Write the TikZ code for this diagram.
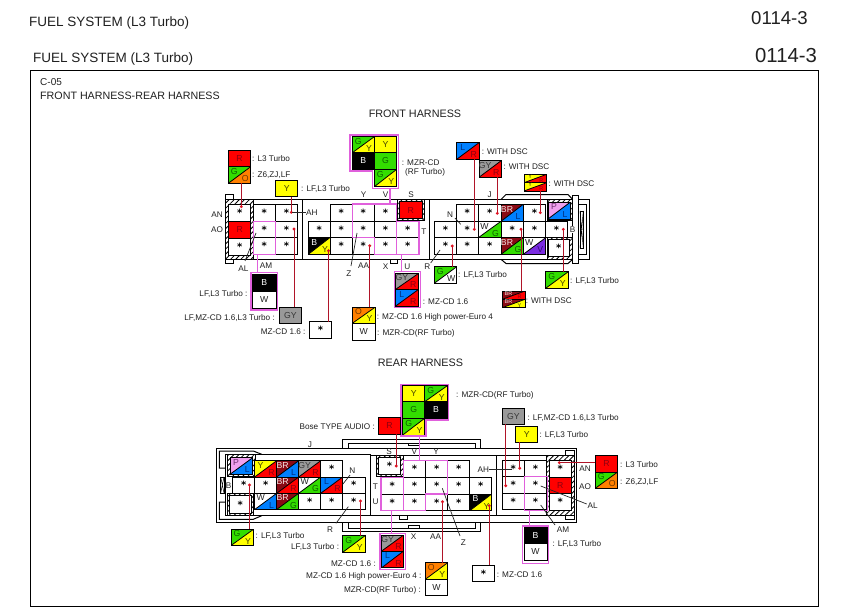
\documentclass[tikz,border=0pt]{standalone}
\usepackage{fontspec}
\setmainfont{Liberation Sans}
\newfontfamily\starfont{DejaVu Sans}[BoldFont={DejaVu Sans Bold}]
\usetikzlibrary{patterns.meta}
\definecolor{cR}{HTML}{FF0000}\definecolor{tR}{HTML}{8C0010}
\definecolor{cG}{HTML}{33DD00}\definecolor{tG}{HTML}{0C6000}
\definecolor{cY}{HTML}{FFFF00}\definecolor{tY}{HTML}{454500}
\definecolor{cO}{HTML}{FF8000}\definecolor{tO}{HTML}{703800}
\definecolor{cL}{HTML}{0080FF}\definecolor{tL}{HTML}{003080}
\definecolor{cBR}{HTML}{8A0A14}\definecolor{tBR}{HTML}{F8E8E8}
\definecolor{cGY}{HTML}{999999}\definecolor{tGY}{HTML}{383838}
\definecolor{cW}{HTML}{FFFFFF}\definecolor{tW}{HTML}{222222}
\definecolor{cP}{HTML}{F0A0EE}\definecolor{tP}{HTML}{703070}
\definecolor{cV}{HTML}{7A2BE0}\definecolor{tV}{HTML}{300C70}
\definecolor{cB}{HTML}{000000}\definecolor{tB}{HTML}{FFFFFF}
\definecolor{wirec}{HTML}{B01428}
\definecolor{dotc}{HTML}{E01020}
\definecolor{pinkc}{HTML}{E060DC}
\definecolor{txt}{HTML}{202020}
\newcounter{nid}
\newcommand\cfont{\fontsize{8.7}{9}\selectfont}
\newcommand\Bx[7]{%
  \pgfmathsetmacro\ww{#5-#3}\pgfmathsetmacro\hh{#6-#4}%
  \pgfmathsetmacro\cx{(#3+#5)/2}\pgfmathsetmacro\cy{(#4+#6)/2}%
  \node[#1,minimum width=\ww pt,minimum height=\hh pt] (#2) at (\cx,\cy) {#7};}
% star cell
\newcommand\St[4]{\stepcounter{nid}\Bx{cellb,fill=white,font=\starf}{n\arabic{nid}}{#1}{#2}{#3}{#4}{\raisebox{-.22em}{*}}}
% star cell with a name
\newcommand\Sn[5]{\Bx{cellb,fill=white,font=\starf}{#1}{#2}{#3}{#4}{#5}{\raisebox{-.22em}{*}}}
\newcommand\starf{\starfont\bfseries\fontsize{10}{10}\selectfont}
% plain coloured cell: name x1 y1 x2 y2 key
\newcommand\Pc[6]{\Bx{cellb,fill=c#6,text=t#6,font=\cfont}{#1}{#2}{#3}{#4}{#5}{#6}}
% two-tone cell: name x1 y1 x2 y2 key1 key2
\newcommand\Dg[7]{%
  \Bx{cellb,path picture={%
    \fill[c#6] (path picture bounding box.north west)--(path picture bounding box.north east)--(path picture bounding box.south west)--cycle;
    \fill[c#7] (path picture bounding box.north east)--(path picture bounding box.south east)--(path picture bounding box.south west)--cycle;
    \draw[black,line width=.8pt] (path picture bounding box.south west)--(path picture bounding box.north east);}}{#1}{#2}{#3}{#4}{#5}{}%
  \pgfmathsetmacro\lxa{#2+.27*(#4-#2)}\pgfmathsetmacro\lya{#3+.29*(#5-#3)}%
  \pgfmathsetmacro\lxb{#4-.24*(#4-#2)}\pgfmathsetmacro\lyb{#5-.27*(#5-#3)}%
  \stepcounter{nid}\node[inner sep=0,font=\cfont,text=t#6] (n\arabic{nid}) at (\lxa,\lya) {#6};%
  \stepcounter{nid}\node[inner sep=0,font=\cfont,text=t#7] (n\arabic{nid}) at (\lxb,\lyb) {#7};}
% text labels
\tikzset{
  cellb/.style={draw=black,line width=1pt,inner sep=0,outer sep=0},
  lb/.style={inner sep=0,text=txt,font=\fontsize{8.2}{9}\selectfont,text height=6pt,text depth=0pt},
  wirel/.style={draw=wirec,line width=1pt},
  pinkl/.style={draw=pinkc,line width=1.2pt},
  pinkbox/.style={draw=pinkc,line width=1.2pt,inner sep=0,outer sep=0},
  thinl/.style={draw=black,line width=1pt},
  leader/.style={draw=black!85,line width=.7pt},
  hatchb/.style={draw=black,line width=.8pt,pattern={Lines[angle=45,distance=3.6pt,line width=.8pt]}},
}
\newcommand\Ll[3]{\stepcounter{nid}\node[lb,anchor=west] (n\arabic{nid}) at (#1,#2) {#3};}
\newcommand\Lr[3]{\stepcounter{nid}\node[lb,anchor=east] (n\arabic{nid}) at (#1,#2) {#3};}
\newcommand\Lc[3]{\stepcounter{nid}\node[lb,anchor=center] (n\arabic{nid}) at (#1,#2) {#3};}
% wire: from swatch anchor straight to a dot at x,y
\newcommand\Wr[4]{\stepcounter{nid}\coordinate (n\arabic{nid}) at (#3,#4);
  \draw[wirel] (#1.#2 -| n\arabic{nid}) -- (n\arabic{nid});
  \fill[dotc] (n\arabic{nid}) circle (1.6pt);}
\newcommand\Ld[4]{\stepcounter{nid}\coordinate (n\arabic{nid}) at (#1,#2);
  \stepcounter{nid}\coordinate (n\arabic{nid}) at (#3,#4);
  \pgfmathtruncatemacro\prv{\arabic{nid}-1}\draw[leader] (n\prv) -- (n\arabic{nid});}
\begin{document}
\begin{tikzpicture}[x=1pt,y=-1pt]
\useasboundingbox (0,0) rectangle (849,607);
\fill[white] (0,0) rectangle (849,607);
% page
\node[inner sep=0,anchor=west,text=txt,font=\fontsize{13.5}{14}\selectfont] (title1) at (29,23) {FUEL SYSTEM (L3 Turbo)};
\node[inner sep=0,anchor=west,text=txt,font=\fontsize{13.5}{14}\selectfont] (title2) at (33,59) {FUEL SYSTEM (L3 Turbo)};
\node[inner sep=0,anchor=west,text=txt,font=\fontsize{18.6}{19}\selectfont] (num1) at (751,18) {0114-3};
\node[inner sep=0,anchor=west,text=txt,font=\fontsize{20.3}{21}\selectfont] (num2) at (755,56) {0114-3};
\node[draw=black,line width=1pt,inner sep=0,minimum width=788.5pt,minimum height=535pt,anchor=north west] (pagebox) at (29.5,70.5) {};
\node[inner sep=0,anchor=west,text=txt,font=\fontsize{10}{11}\selectfont] (cnum) at (40,82.5) {C-05};
\node[inner sep=0,anchor=west,text=txt,font=\fontsize{10.7}{12}\selectfont] (sub) at (40,96) {FRONT HARNESS-REAR HARNESS};
\node[inner sep=0,text=txt,font=\fontsize{10.8}{12}\selectfont] (hfront) at (415,114) {FRONT HARNESS};
\node[inner sep=0,text=txt,font=\fontsize{10.8}{12}\selectfont] (hrear) at (420.5,363) {REAR HARNESS};

% ============ FRONT connector frame
\draw[thinl] (225.3,199.5) rectangle (572.7,259.3);
\draw[thinl,fill=white] (225.3,194.7) rectangle (233,199.5);
\draw[thinl,fill=white] (225.3,259.3) rectangle (233,263.5);
\draw[thinl] (302.5,199.5)--(302.5,259.3) (429.3,199.5)--(429.3,259.3);
\draw[thinl,fill=white] (390,259.3) rectangle (397,263.2);
\draw[thinl] (501,199.5)--(506,194.5)--(568,194.5)--(572.7,199.5);
\draw[thinl] (501,259.3)--(506,263.5)--(568,263.5)--(572.7,259.3);
\draw[thinl] (572.7,195.5) rectangle (578.5,263.5);
\draw[thinl] (578.5,199.7)--(589.3,199.7)--(589.3,259.5)--(578.5,259.5);
\draw[thinl] (578.5,204)--(586,204)--(586,254.5)--(578.5,254.5);
\draw[thinl] (580,211) rectangle (583.3,248);
\draw[line width=.5pt] (580,211)--(583.3,248) (583.3,211)--(580,248) (580,229)--(583.3,229);
% hatching front
\path[hatchb] (225.3,199.5) rectangle (253.3,259.3);
\path[hatchb] (397,199.5) rectangle (424,220.7);
\path[hatchb] (547,199.5) rectangle (572.7,220.7);
\path[hatchb] (547,237.7) rectangle (572.7,259.3);
% cells
\St{228.7}{204.3}{250.7}{221.5}
\Pc{fAO}{228.7}{221.5}{250.7}{238}{R}
\St{228.7}{238}{250.7}{255}
\foreach \xa/\xb in {253.3/275.3,275.3/297.6}{\foreach \ya/\yb in {204/221.3,221.3/237.3,237.3/254.3}{\St{\xa}{\ya}{\xb}{\yb}}}
\foreach \xa/\xb in {330.3/352.3,352.3/374.3,374.3/396.7}{\St{\xa}{204}{\xb}{221.3}}
\foreach \xa/\xb in {308.3/330.3,330.3/352.3,352.3/374.3,374.3/396.7,396.7/419}{\St{\xa}{221.3}{\xb}{237.3}}
\Dg{fBY}{308.3}{237.3}{330.3}{254.3}{B}{Y}
\foreach \xa/\xb in {330.3/352.3,352.3/374.3,374.3/396.7,396.7/419}{\St{\xa}{237.3}{\xb}{254.3}}
\Pc{fS}{399.3}{201.5}{422}{218.7}{R}
\foreach \xa/\xb in {456.3/478.3,478.3/501,523.3/545.7}{\St{\xa}{204.3}{\xb}{221.3}}
\Dg{fBRL}{501}{204.3}{523.3}{221.3}{BR}{L}
\Dg{fPL}{548}{202}{570.5}{219}{P}{L}
\foreach \xa/\xb in {434.7/456.3,456.3/478.3,501/523.3,523.3/545.7,545.7/567.3}{\St{\xa}{221.3}{\xb}{237.7}}
\Dg{fWG}{478.3}{221.3}{501}{237.7}{W}{G}
\foreach \xa/\xb in {434.7/456.3,456.3/478.3,478.3/501}{\St{\xa}{237.7}{\xb}{254.3}}
\Dg{fBRG}{501}{237.7}{523.3}{254.3}{BR}{G}
\Dg{fWV}{523.3}{237.7}{545.7}{254.3}{W}{V}
\St{548.3}{239}{569}{256.5}
% pink groups
\coordinate (fm1) at (352.3,204);\coordinate (fm2) at (396.7,204);\coordinate (fm3) at (396.7,254.3);
\coordinate (fm4) at (374.3,254.3);\coordinate (fm5) at (374.3,237.3);\coordinate (fm6) at (352.3,237.3);
\draw[pinkl] (fm1)--(fm2)--(fm3)--(fm4)--(fm5)--(fm6)--cycle;
\Bx{pinkbox}{fTU}{396.7}{221.3}{419}{254.3}{}
\Bx{pinkbox}{fAM}{253.3}{221.3}{275.3}{254.3}{}

% ---- front swatches
\Pc{sfR}{228.3}{150.3}{250.7}{166.7}{R}
\Dg{sfGO}{228.3}{166.7}{250.7}{183.3}{G}{O}
\Pc{sfY}{275.7}{180.3}{297.7}{196.7}{Y}
\Dg{sfm1}{352.3}{136.7}{374.3}{152.7}{G}{Y}
\Pc{sfm2}{374.3}{136.7}{396.7}{152.7}{Y}
\Pc{sfm3}{352.3}{152.7}{374.3}{169.3}{B}
\Pc{sfm4}{374.3}{152.7}{396.7}{169.3}{G}
\Dg{sfm5}{374.3}{169.3}{396.7}{186.7}{G}{Y}
\coordinate (pm1) at (350,135);\coordinate (pm2) at (398.7,135);\coordinate (pm3) at (398.7,188.3);
\coordinate (pm4) at (372.7,188.3);\coordinate (pm5) at (372.7,171);\coordinate (pm6) at (350,171);
\draw[pinkl] (pm1)--(pm2)--(pm3)--(pm4)--(pm5)--(pm6)--cycle;
\coordinate (fm7) at (390,204);
\draw[pinkl] (pm3 -| fm7)--(fm7);
\Bx{pinkbox}{pfBW}{251}{272.7}{277.3}{310}{}
\Pc{sfB}{252.3}{274}{276}{291.7}{B}
\Pc{sfW}{252.3}{291.7}{276}{308.3}{W}
\coordinate (fm8) at (257.3,254.3);
\draw[pinkl] (fm8)--(pfBW.north -| fm8);
\Pc{sfGY}{279.3}{307.3}{301.7}{323.3}{GY}
\Sn{sfst}{309.3}{321.7}{331.7}{338.3}
\Dg{sfOY}{352.3}{307.3}{375}{323.3}{O}{Y}
\Pc{sfW2}{352.3}{323.3}{375}{340}{W}
\Bx{pinkbox}{pfTU}{394.3}{271.7}{420.3}{307.7}{}
\Dg{sfa}{395.7}{273.3}{418.7}{289.3}{GY}{R}
\Dg{sfb}{395.7}{289.3}{418.7}{306}{L}{R}
\coordinate (fm9) at (401.7,254.3);
\draw[pinkl] (fm9)--(pfTU.north -| fm9);
\Dg{sfGW}{434.3}{266.7}{456.7}{283.3}{G}{W}
\def\cfont{\fontsize{5.5}{6}\selectfont}
\Dg{sfBRR}{502.3}{291}{525}{299.3}{BR}{R}
\Dg{sfBRY}{502.3}{299.3}{525}{307.7}{BR}{Y}
\Dg{sfYR1}{524}{174.3}{546.7}{182.7}{Y}{R}
\Dg{sfYR2}{524}{182.7}{546.7}{191}{Y}{R}
\def\cfont{\fontsize{8.7}{9}\selectfont}
\Dg{sfGY2}{545.7}{271.7}{568.3}{288.3}{G}{Y}
\Dg{sfLR}{456.7}{142.7}{479}{159.3}{L}{R}
\Dg{sfGYR}{479}{160.3}{501.7}{177.3}{GY}{R}
% ---- front wires
\Wr{sfGO}{south}{241.3}{206.7}
\Wr{sfY}{south}{291.3}{212.3}
\Wr{sfGY}{north}{294}{229}
\Wr{sfst}{north}{328.5}{250.7}
\Wr{sfOY}{north}{369.7}{245.7}
\Wr{sfGW}{north}{452.3}{246}
\Wr{sfBRR}{north}{521}{229.3}
\Wr{sfGY2}{north}{563.3}{229.3}
\Wr{sfLR}{south}{474.3}{229.3}
\Wr{sfGYR}{south}{497.3}{213.3}
\Wr{sfYR2}{south}{540.3}{212.7}
% ---- front texts
\Ll{252}{158}{: L3 Turbo}
\Ll{252}{175}{: Z6,ZJ,LF}
\Ll{301}{189}{: LF,L3 Turbo}
\Ll{401.7}{162.3}{: MZR-CD}
\Ll{405}{171.7}{(RF Turbo)}
\Ll{481.7}{151.7}{: WITH DSC}
\Ll{503.3}{167}{: WITH DSC}
\Ll{548.3}{183}{: WITH DSC}
\Lr{247.7}{293}{LF,L3 Turbo :}
\Lr{275}{317}{LF,MZ-CD 1.6,L3 Turbo :}
\Lr{305.7}{331}{MZ-CD 1.6 :}
\Ll{376.7}{316.7}{: MZ-CD 1.6 High power-Euro 4}
\Ll{377}{332.7}{: MZR-CD(RF Turbo)}
\Ll{422.7}{301.7}{: MZ-CD 1.6}
\Ll{458}{274.3}{: LF,L3 Turbo}
\Ll{525.7}{300}{: WITH DSC}
\Ll{570}{280}{: LF,L3 Turbo}
\Lc{217}{214}{AN}\Lc{217}{229.5}{AO}\Lc{243.5}{268.5}{AL}\Lc{266}{265.5}{AM}
\Ll{306}{212}{AH}\draw[leader] (292,212)--(n\arabic{nid}.west);
\Lc{363.5}{194}{Y}\Lc{385.5}{194}{V}\Lc{411}{194}{S}\Lc{424}{231}{T}
\Lc{385.7}{266}{X}\Lc{407.3}{266}{U}\Lc{349}{273}{Z}\Lc{363.5}{265.5}{AA}
\Lc{427.3}{266.7}{R}\Lc{450}{215}{N}\Lc{489.7}{194.5}{J}
\node[lb,fill=white,inner sep=.5pt,text height=6pt] (fB) at (572.5,229.5) {B};
\Ld{256}{233}{245}{261}
\Ld{357}{233}{351}{266}
\Ld{455}{218}{460.7}{224.3}
\Ld{430.7}{263}{440}{250}

% ============ REAR connector frame
\draw[thinl] (216.7,448.3) rectangle (576.7,522.3);
\draw[thinl] (342.7,448.3)--(342.7,439.5)--(480.7,439.5)--(480.7,448.3);
\draw[thinl] (348,448.3)--(348,443)--(475.7,443)--(475.7,448.3);
\draw[thinl] (408,443)--(408,445.8)--(419,445.8)--(419,443);
\draw[thinl] (342.7,522.3)--(342.7,531)--(480.7,531)--(480.7,522.3);
\draw[thinl] (348,522.3)--(348,528)--(475.7,528)--(475.7,522.3);
\draw[thinl] (408,528)--(408,525)--(419,525)--(419,528);
% left part
\draw[thinl] (225.7,454.3)--(370.7,454.3)--(370.7,515.7)--(225.7,515.7)--cycle;
\draw[thinl] (225.7,468)--(219.3,468)--(219.3,451)--(253.3,451)--(261.7,454.3);
\draw[thinl] (225.7,502)--(219.3,502)--(219.3,519.3)--(253.3,519.3)--(261.7,515.7);
\draw[thinl] (220.7,477) rectangle (224,493);
\draw[line width=.5pt] (220.7,477)--(224,493) (224,477)--(220.7,493);
% centre
\draw[thinl] (370.7,455)--(496.7,455)--(496.7,515.7)--(370.7,515.7);
\draw[thinl,fill=white] (399.3,515.7) rectangle (407.5,519.3);
\draw[thinl] (496.7,455)--(546.7,455)--(546.7,515.7)--(496.7,515.7);
% right hatched column
\path[hatchb] (546.7,455) rectangle (574,515.5);
\draw[thinl,fill=white] (565,450.7) rectangle (574,455);
\draw[thinl,fill=white] (565,515.5) rectangle (574,519.5);
\path[hatchb] (227.3,454.3) rectangle (255,476.7);
\path[hatchb] (227.3,493.3) rectangle (253.3,515.5);
\path[hatchb] (376,455) rectangle (403,476.7);
% cells
\Dg{rPL}{230}{457.7}{252.7}{474.3}{P}{L}
\St{229.3}{495.7}{251}{513.3}
\Dg{rYR}{254.7}{460.7}{276.7}{477}{Y}{R}
\Dg{rBRL}{276.7}{460.7}{298.7}{477}{BR}{L}
\Dg{rGYR}{298.7}{460.7}{320.7}{477}{GY}{R}
\St{320.7}{460.7}{342.7}{477}
\St{232.7}{477}{254.7}{493.3}\St{254.7}{477}{276.7}{493.3}
\Dg{rBRR}{276.7}{477}{298.7}{493.3}{BR}{R}
\Dg{rWG}{298.7}{477}{320.7}{493.3}{W}{G}
\Dg{rLR}{320.7}{477}{342.7}{493.3}{L}{R}
\St{342.7}{477}{365}{493.3}
\Dg{rWL}{254.7}{493.3}{276.7}{509.5}{W}{L}
\Dg{rBRG}{276.7}{493.3}{298.7}{509.5}{BR}{G}
\St{298.7}{493.3}{320.7}{509.5}\St{320.7}{493.3}{342.7}{509.5}\St{342.7}{493.3}{365}{509.5}
\St{378.3}{457.3}{400.7}{474.3}
\foreach \xa/\xb in {403.3/425.7,425.7/447.7,447.7/469.7}{\St{\xa}{460.7}{\xb}{477.3}}
\foreach \xa/\xb in {381/403.3,403.3/425.7,425.7/447.7,447.7/469.7,469.7/491.7}{\St{\xa}{477.3}{\xb}{494}}
\foreach \xa/\xb in {381/403.3,403.3/425.7,425.7/447.7,447.7/469.7}{\St{\xa}{494}{\xb}{510.7}}
\Dg{rBY}{469.7}{494}{491.7}{510.7}{B}{Y}
\foreach \xa/\xb in {502.3/524.3,524.3/546.7}{\foreach \ya/\yb in {460/476.7,476.7/493.3,493.3/509.5}{\St{\xa}{\ya}{\xb}{\yb}}}
\St{549}{460}{571.7}{477.3}
\Pc{rAO}{549}{477.3}{571.7}{493.3}{R}
\St{549}{493.3}{571.7}{510}
% pink groups
\coordinate (rm1) at (403.3,460.7);\coordinate (rm2) at (447.7,460.7);\coordinate (rm3) at (447.7,494);
\coordinate (rm4) at (425.7,494);\coordinate (rm5) at (425.7,510.7);\coordinate (rm6) at (403.3,510.7);
\draw[pinkl] (rm1)--(rm2)--(rm3)--(rm4)--(rm5)--(rm6)--cycle;
\Bx{pinkbox}{rTU}{381}{477.3}{403.3}{510.7}{}
\Bx{pinkbox}{rAM}{524.3}{476.7}{547.5}{510.5}{}
% ---- rear swatches
\Pc{srY}{402.7}{385.7}{424.7}{401.7}{Y}
\Dg{srGY}{424.7}{385.7}{447.3}{401.7}{G}{Y}
\Pc{srG}{402.7}{401.7}{424.7}{418.3}{G}
\Pc{srB}{424.7}{401.7}{447.3}{418.3}{B}
\Dg{srGY2}{402.7}{418.3}{424.7}{435}{G}{Y}
\coordinate (rp1) at (401,384.3);\coordinate (rp2) at (448.7,384.3);\coordinate (rp3) at (448.7,420);
\coordinate (rp4) at (425.9,420);\coordinate (rp5) at (425.9,436);\coordinate (rp6) at (401,436);
\draw[pinkl] (rp1)--(rp2)--(rp3)--(rp4)--(rp5)--(rp6)--cycle;
\coordinate (rm7) at (419.3,460.7);
\draw[pinkl] (rp6 -| rm7)--(rm7);
\Pc{srR}{378.3}{417.7}{400.7}{434.3}{R}
\Bx{pinkbox}{prTU}{380}{533.7}{405.3}{569.3}{}
\Dg{sra}{381.7}{535}{403.7}{551}{GY}{R}
\Dg{srb}{381.7}{551}{403.7}{567.7}{L}{R}
\coordinate (rm8) at (391.5,510.7);
\draw[pinkl] (rm8)--(prTU.north -| rm8);
\Dg{srGY3}{342.7}{535.7}{365}{552.3}{G}{Y}
\Dg{srGY4}{231}{529.3}{253.5}{545.5}{G}{Y}
\Dg{srOY}{425.3}{562.7}{447.7}{579.3}{O}{Y}
\Pc{srW}{425.3}{579.3}{447.7}{595.7}{W}
\Sn{srst}{472.3}{565}{494.7}{581.7}
\Pc{srGYc}{502.3}{408.3}{524.3}{424.3}{GY}
\Pc{srYc}{515.7}{426}{537.7}{442.3}{Y}
\Pc{srRc}{595.3}{455.7}{617.7}{472}{R}
\Dg{srGO}{595.3}{472}{617.7}{488.3}{G}{O}
\Bx{pinkbox}{prBW}{522.3}{526}{548.3}{563.3}{}
\Pc{srBc}{524}{527.3}{547}{543.3}{B}
\Pc{srWc}{524}{543.3}{547}{560}{W}
\coordinate (rm9) at (529.3,510.5);
\draw[pinkl] (rm9)--(prBW.north -| rm9);
% ---- rear wires
\Wr{srR}{south}{396.3}{466}
\Wr{srGY3}{north}{360.5}{501}
\Wr{srGY4}{north}{249.5}{485}
\Wr{srOY}{north}{442.5}{501.7}
\Wr{srst}{north}{489.3}{505.7}
\Wr{srGYc}{south}{505.7}{485.7}
\Wr{srYc}{south}{519.7}{468.3}
\coordinate (rdotan) at (559.3,462.7);
\draw[wirel] (srRc.west |- rdotan)--(rdotan);
\fill[dotc] (rdotan) circle (1.6pt);
% ---- rear texts
\Ll{456}{394.7}{: MZR-CD(RF Turbo)}
\Lr{375}{426.7}{Bose TYPE AUDIO :}
\Ll{527.3}{417.7}{: LF,MZ-CD 1.6,L3 Turbo}
\Ll{539.3}{434.7}{: LF,L3 Turbo}
\Ll{620}{464}{: L3 Turbo}
\Ll{620}{481.3}{: Z6,ZJ,LF}
\Ll{552.3}{543.3}{: LF,L3 Turbo}
\Ll{255.5}{535.5}{: LF,L3 Turbo}
\Lr{339.3}{546.7}{LF,L3 Turbo :}
\Lr{376}{563.3}{MZ-CD 1.6 :}
\Lr{421.7}{575.7}{MZ-CD 1.6 High power-Euro 4 :}
\Lr{421}{589}{MZR-CD(RF Turbo) :}
\Ll{496.7}{574}{: MZ-CD 1.6}
\Lc{585}{468}{AN}\Lc{585}{486.7}{AO}\Lc{592.7}{505.7}{AL}\Lc{563}{529}{AM}
\Lc{483.3}{469.3}{AH}\draw[leader] (n\arabic{nid}.east)--(512,469.3);
\Lc{389}{451.7}{S}\Lc{414.3}{451.7}{V}\Lc{436}{451.7}{Y}\Lc{375.5}{486.3}{T}\Lc{375.5}{501}{U}
\Lc{413.7}{536.7}{X}\Lc{435.7}{536.7}{AA}\Lc{463.3}{542}{Z}\Lc{330}{529}{R}\Lc{352.3}{470.7}{N}
\Lc{310}{444.3}{J}\Lc{228.5}{485.5}{B}
\Ld{540.7}{486}{586.7}{504}
\Ld{540.7}{505}{555}{525}
\Ld{342.7}{484.3}{350}{475}
\Ld{348.3}{506.7}{336}{523.3}
\Ld{442.3}{488.3}{460}{536}
\end{tikzpicture}
\end{document}
